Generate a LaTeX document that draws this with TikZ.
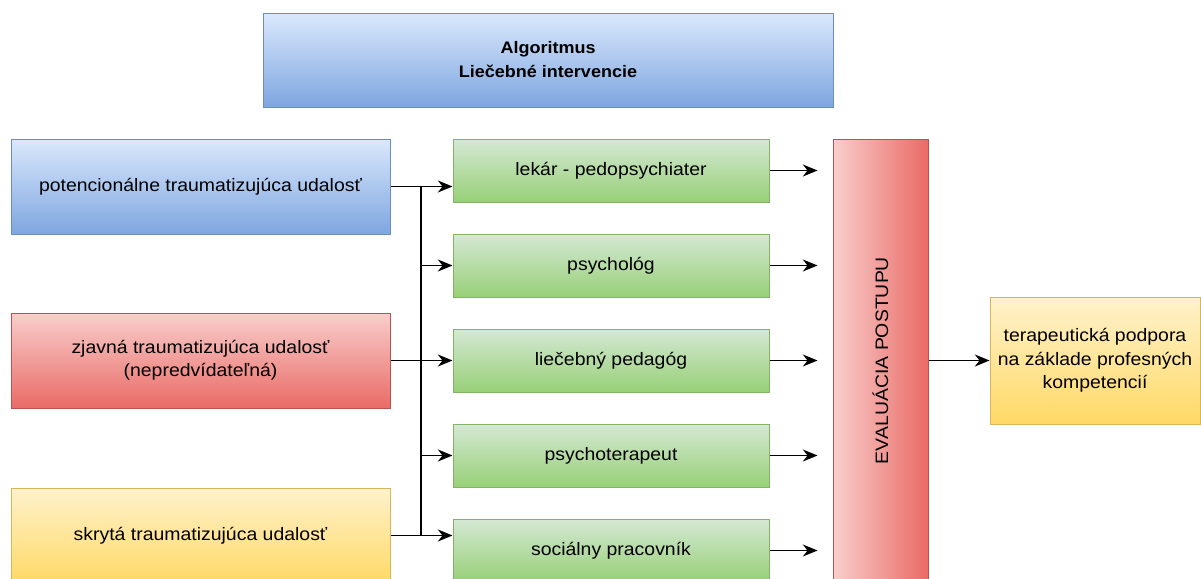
\documentclass[tikz,border=0pt]{standalone}
\usepackage{fontspec}
\setmainfont{Liberation Sans}[FakeStretch=1.08]
\usetikzlibrary{positioning,arrows.meta}
\definecolor{BlueTop}{HTML}{DAE8FC}
\definecolor{BlueBot}{HTML}{7EA6E0}
\definecolor{BlueLine}{HTML}{6C8EBF}
\definecolor{RedTop}{HTML}{F8CECC}
\definecolor{RedBot}{HTML}{EA6B66}
\definecolor{RedLine}{HTML}{B85450}
\definecolor{GreenTop}{HTML}{D5E8D4}
\definecolor{GreenBot}{HTML}{97D077}
\definecolor{GreenLine}{HTML}{82B366}
\definecolor{YellowTop}{HTML}{FFF2CC}
\definecolor{YellowBot}{HTML}{FFD966}
\definecolor{YellowLine}{HTML}{D6B656}
\tikzset{
  Box/.style={rectangle, align=center, inner sep=2pt, line width=0.75pt},
  BlueBox/.style={Box, draw=BlueLine, top color=BlueTop, bottom color=BlueBot},
  RedBox/.style={Box, draw=RedLine, top color=RedTop, bottom color=RedBot},
  GreenBox/.style={Box, draw=GreenLine, top color=GreenTop, bottom color=GreenBot,
    minimum width=237pt, minimum height=47.25pt},
  YellowBox/.style={Box, draw=YellowLine, top color=YellowTop, bottom color=YellowBot},
  EventBox/.style={minimum width=284.25pt, minimum height=71.25pt},
  Conn/.style={line width=1.1pt},
  ConnArrow/.style={Conn, -{Stealth[length=11pt, width=9pt, inset=3.5pt]}}
}

\begin{document}
\begin{tikzpicture}[x=0.75pt, y=-0.75pt, font=\fontsize{13.5}{17.5}\selectfont]
  \useasboundingbox (0,0) rectangle (1201,578);
  \clip (0,0) rectangle (1201,578);

  % header
  \node[BlueBox, minimum width=427.5pt, minimum height=70.5pt, font=\fontsize{12.5}{18}\selectfont\bfseries]
    (title) at (548,60) {Algoritmus\\Liečebné intervencie};

  % events
  \node[BlueBox, EventBox] (potencialna) at (200.5,186.5) {potencionálne traumatizujúca udalosť};
  \node[RedBox, EventBox] (zjavna) at (200.5,360.5) {zjavná traumatizujúca udalosť\\(nepredvídateľná)};
  \node[YellowBox, EventBox] (skryta) at (200.5,535.5) {skrytá traumatizujúca udalosť};

  % specialists
  \node[GreenBox] (lekar) at (611,170.5) {lekár - pedopsychiater};
  \node[GreenBox] (psycholog) [below=23.25pt of lekar] {psychológ};
  \node[GreenBox] (pedagog) [below=23.25pt of psycholog] {liečebný pedagóg};
  \node[GreenBox] (terapeut) [below=23.25pt of pedagog] {psychoterapeut};
  \node[GreenBox] (pracovnik) [below=23.25pt of terapeut] {sociálny pracovník};

  % evaluation and result
  \node[RedBox, left color=RedTop, right color=RedBot, minimum width=71.25pt, minimum height=332.25pt]
    (evaluacia) at (880.5,360.5) {\rotatebox{90}{EVALUÁCIA POSTUPU}};
  \node[YellowBox, minimum width=157.5pt, minimum height=95.25pt]
    (podpora) at (1095,360.5) {terapeutická podpora\\na základe profesných\\kompetencií};

  % distribution bus
  \coordinate (jtop) at (421,186.5);
  \coordinate (jmid) at (421,360.5);
  \coordinate (jbot) at (421,535.5);
  \draw[Conn] (potencialna.east) -- (jtop);
  \draw[Conn] (zjavna.east) -- (jmid);
  \draw[Conn] (skryta.east) -- (jbot);
  \draw[Conn] (jtop) -- (jbot);
  \draw[ConnArrow] (jtop) -- (jtop -| lekar.west);
  \draw[ConnArrow] (jtop |- psycholog.west) -- (psycholog.west);
  \draw[ConnArrow] (jmid) -- (pedagog.west);
  \draw[ConnArrow] (jtop |- terapeut.west) -- (terapeut.west);
  \draw[ConnArrow] (jbot) -- (jbot -| pracovnik.west);

  % to evaluation
  \draw[ConnArrow, shorten >=11.25pt] (lekar.east) -- (lekar.east -| evaluacia.west);
  \draw[ConnArrow, shorten >=11.25pt] (psycholog.east) -- (psycholog.east -| evaluacia.west);
  \draw[ConnArrow, shorten >=11.25pt] (pedagog.east) -- (pedagog.east -| evaluacia.west);
  \draw[ConnArrow, shorten >=11.25pt] (terapeut.east) -- (terapeut.east -| evaluacia.west);
  \draw[ConnArrow, shorten >=11.25pt] (pracovnik.east) -- (pracovnik.east -| evaluacia.west);
  \draw[ConnArrow] (evaluacia) -- (podpora);
\end{tikzpicture}
\end{document}
